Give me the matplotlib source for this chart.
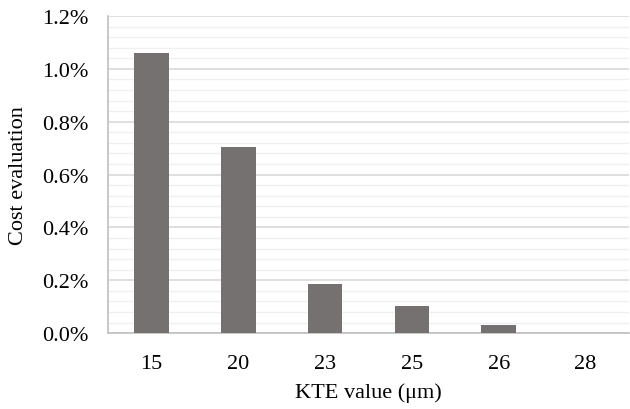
import matplotlib.pyplot as plt
from matplotlib.ticker import MultipleLocator, PercentFormatter

plt.rcParams['font.family'] = ['Liberation Serif', 'DejaVu Serif']

kte_values = ['15', '20', '23', '25', '26', '28']
cost_eval = [1.059, 0.705, 0.186, 0.101, 0.030, 0.0]  # percent

fig = plt.figure(figsize=(6.3, 4.1), dpi=100)
ax = fig.add_axes([0.1714, 0.185, 0.8270, 0.7735])

x = range(len(kte_values))
ax.bar(x, cost_eval, width=0.4, color='#767171', zorder=3)

ax.set_xlim(-0.5, len(kte_values) - 0.5)
ax.set_ylim(0, 1.2)
ax.yaxis.set_major_locator(MultipleLocator(0.2))
ax.yaxis.set_minor_locator(MultipleLocator(0.04))
ax.yaxis.set_major_formatter(PercentFormatter(decimals=1))
ax.grid(axis='y', which='major', color='#d9d9d9', linewidth=1.2, zorder=0)
ax.grid(axis='y', which='minor', color='#f0f0f0', linewidth=1.0, zorder=0)

ax.set_xticks(list(x))
ax.set_xticklabels(kte_values)
ax.tick_params(axis='both', which='both', length=0, labelsize=16)
ax.tick_params(axis='x', pad=15)
ax.tick_params(axis='y', pad=14)

for side in ['top', 'right']:
    ax.spines[side].set_visible(False)
ax.spines['left'].set_color('#bfbfbf')
ax.spines['bottom'].set_color('#bfbfbf')
ax.spines['left'].set_linewidth(1.2)
ax.spines['bottom'].set_linewidth(1.2)

ax.set_xlabel('KTE value (μm)', fontsize=16, labelpad=7)
ax.set_ylabel('Cost evaluation', fontsize=16, labelpad=10)

fig.savefig('out.png', dpi=100)
